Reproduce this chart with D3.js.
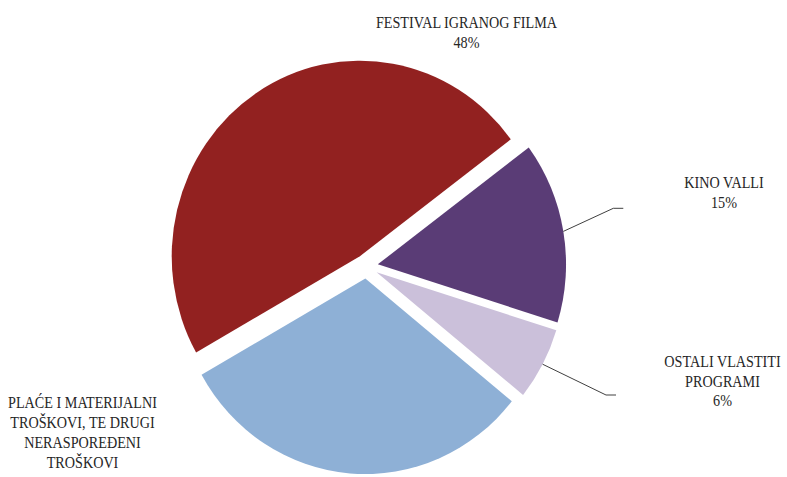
<!DOCTYPE html>
<html lang="hr">
<head>
<meta charset="UTF-8">
<title>Struktura rashoda</title>
<script src="https://d3js.org/d3.v7.min.js"></script>
<style>
  body { margin: 0; background: #fff; }
  .lbl { font-family: "Liberation Serif", serif; font-size: 16.5px; fill: #262626; }
</style>
</head>
<body>
<script>
var width = 787, height = 477;

// data
var categories = ['FESTIVAL IGRANOG FILMA', 'KINO VALLI', 'OSTALI VLASTITI PROGRAMI',
  'PLAĆE I MATERIJALNI TROŠKOVI, TE DRUGI NERASPOREĐENI TROŠKOVI'];
var labelLines = [['FESTIVAL IGRANOG FILMA'], ['KINO VALLI'], ['OSTALI VLASTITI', 'PROGRAMI'],
  ['PLAĆE I MATERIJALNI', 'TROŠKOVI, TE DRUGI', 'NERASPOREĐENI', 'TROŠKOVI']];
var shares = [48, 15, 6, 31];
var colors = ['#922120', '#5A3C76', '#CBC0DA', '#8EB0D6'];

// layout
var cx = 366.3, cy = 266.4, r = 188.2, yStretch = 1.039, explode = 11.7;
var startDeg = 240.5;
var lineH = 19.9, textSquash = 0.86;
// label centre x, first baseline y, leader elbow (if any)
var labelPos = [
  { x: 466.5, y: 28, leader: null },
  { x: 724, y: 188.3, leader: [613.3, 208.3, 623.3] },
  { x: 722.5, y: 366.7, leader: [606, 395, 616] },
  { x: 82.5, y: 408, leader: null }
];

var svg = d3.select('body').append('svg')
  .attr('width', width).attr('height', height);

var pie = d3.pie().sort(null)
  .startAngle(startDeg * Math.PI / 180)
  .endAngle(startDeg * Math.PI / 180 + 2 * Math.PI);
var arcs = pie(shares);
var arc = d3.arc().innerRadius(0).outerRadius(r);

// push a point out along the slice's middle angle
function offset(d, dist) {
  var a = (d.startAngle + d.endAngle) / 2;
  return [Math.sin(a) * dist, -Math.cos(a) * dist * yStretch];
}

var g = svg.append('g').attr('transform', 'translate(' + cx + ',' + cy + ')');

g.selectAll('path').data(arcs).join('path')
  .attr('transform', function (d) {
    var o = offset(d, explode);
    return 'translate(' + o[0] + ',' + o[1] + ') scale(1,' + yStretch + ')';
  })
  .attr('d', arc)
  .attr('fill', function (d, i) { return colors[i]; });

// leader lines
arcs.forEach(function (d, i) {
  var p = labelPos[i];
  if (!p.leader) return;
  var s = offset(d, explode + r);
  svg.append('polyline')
    .attr('points', [[cx + s[0], cy + s[1]], [p.leader[0], p.leader[1]], [p.leader[2], p.leader[1]]].join(' '))
    .attr('fill', 'none').attr('stroke', '#404040').attr('stroke-width', 1);
});

// labels
arcs.forEach(function (d, i) {
  var p = labelPos[i];
  var t = svg.append('text').attr('class', 'lbl').attr('text-anchor', 'middle')
    .attr('transform', 'translate(' + p.x + ',' + p.y + ') scale(' + textSquash + ',1)');
  labelLines[i].concat([shares[i] + '%']).forEach(function (line, j) {
    t.append('tspan').attr('x', 0).attr('y', j * lineH).text(line);
  });
});
</script>
</body>
</html>
